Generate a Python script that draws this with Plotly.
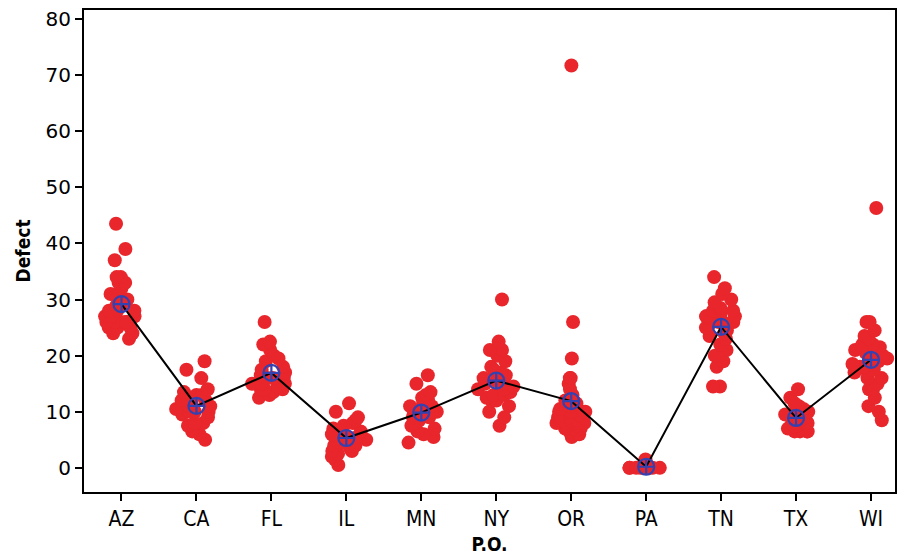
import plotly.graph_objects as go
import pandas as pd

categories = ["AZ", "CA", "FL", "IL", "MN", "NY", "OR", "PA", "TN", "TX", "WI"]

az = [43.5, 39, 37, 34, 34, 33, 33, 32, 31, 31, 30, 30, 29, 29, 28, 28, 28, 27, 27, 27,
      26, 26, 26, 25, 25, 24, 23, 26, 27, 25, 24, 26]
ca = [19, 17.5, 16, 14, 13.5, 13, 13, 12.5, 12, 12, 11.5, 11, 11, 10.5, 10, 10, 10, 9.5,
      9, 8, 8, 7.5, 6.5, 6, 5]
fl = [26, 22.5, 22, 21, 20, 19.5, 19, 18, 17.5, 17, 16.5, 16, 16, 15.5, 15, 15, 14.5, 14,
      14, 13.5, 13, 12.5, 16, 15, 14]
il = [11.5, 10, 9, 8.5, 8, 7.5, 7, 6.5, 6, 6, 5.5, 5, 5, 4.5, 4, 4, 3.5, 3, 3, 2.5, 2,
      1.5, 0.5, 5, 4]
mn = [16.5, 15, 13.5, 13, 12.5, 12, 11.5, 11, 11, 10.5, 10, 10, 9.5, 9, 9, 8.5, 8, 7.5,
      7, 6.5, 6, 5.5, 4.5, 10, 9]
ny = [30, 22.5, 21, 21, 20, 19, 17.5, 18, 17, 16.5, 16, 15.5, 15, 15, 14.5, 14, 13.5, 13,
      12.5, 12, 11, 10, 9, 7.5, 14, 13, 12]
orr = [71.7, 26, 19.5, 16, 16, 15, 14, 13, 12, 12, 11.5, 11, 11, 10.5, 10, 10, 10, 9.5,
       9.5, 9, 9, 8.5, 8.5, 8, 8, 7.5, 7, 7, 6.5, 6, 5.5, 9, 8, 7, 10, 9, 8, 7.5, 8.5, 10]
pa = [0, 0, 0, 0, 0, 0, 0, 0, 0, 0, 0, 0, 1.5, 1, 0.5]
tn = [34, 32, 31, 30, 29.5, 28.5, 28, 28, 27.5, 27, 27, 26.5, 26, 26, 25.5, 25, 25, 24.5,
      24, 23.5, 23, 22, 21, 20, 19, 18, 14.5, 14.5, 26, 27]
tx = [14, 12.5, 11.5, 11, 11, 10.5, 10, 10, 9.5, 9.5, 9, 9, 8.5, 8, 8, 8, 7.5, 7.5, 7, 7,
      7, 6.5, 6.5, 6.5, 6.5, 10, 9, 8]
wi = [46.3, 26, 26, 24.5, 23.5, 23, 22, 22, 21.5, 21, 20.5, 20, 20, 19.5, 19, 18.5, 18,
      17.5, 17, 16, 15, 14, 14, 12.5, 11, 10, 8.5, 17, 18, 16]

groups = [az, ca, fl, il, mn, ny, orr, pa, tn, tx, wi]

rows = []
for cat, vals in zip(categories, groups):
    for v in vals:
        rows.append((cat, v))
df = pd.DataFrame(rows, columns=["PO", "Defect"])
means = df.groupby("PO", sort=False)["Defect"].mean().reindex(categories)

RED = "#E8262B"
BLUE = "#3441B0"

fig = go.Figure()
fig.add_trace(go.Box(
    x=df["PO"], y=df["Defect"],
    boxpoints="all", jitter=1, pointpos=0, width=0.55,
    fillcolor="rgba(0,0,0,0)", line=dict(width=0, color="rgba(0,0,0,0)"),
    marker=dict(color=RED, size=14, opacity=1, line=dict(width=0)),
    showlegend=False, hoveron="points",
))
fig.add_trace(go.Scatter(
    x=categories, y=means.values, mode="lines+markers",
    line=dict(color="black", width=2),
    marker=dict(symbol="circle-cross-open", size=16, color=BLUE, line=dict(width=2.2, color=BLUE)),
    showlegend=False,
))

fig.update_layout(
    width=901, height=556,
    margin=dict(l=84, r=4, t=10, b=64),
    plot_bgcolor="white", paper_bgcolor="white",
    font=dict(family="DejaVu Sans, sans-serif", size=20, color="black"),
)
fig.update_xaxes(
    type="category", categoryorder="array", categoryarray=categories,
    range=[-0.5, 10.32],
    showline=True, linecolor="black", linewidth=2, mirror=True,
    ticks="outside", ticklen=7, tickwidth=1.5, tickcolor="black",
    showgrid=False, zeroline=False,
    title=dict(text="<b>P.O.</b>", font=dict(family="DejaVu Sans Condensed, DejaVu Sans", size=19), standoff=7),
    tickfont=dict(family="DejaVu Sans Condensed, DejaVu Sans", size=21),
)
fig.update_yaxes(
    range=[-4.3, 81.6], tickvals=[0, 10, 20, 30, 40, 50, 60, 70, 80],
    showline=True, linecolor="black", linewidth=2, mirror=True,
    ticks="outside", ticklen=7, tickwidth=1.5, tickcolor="black",
    showgrid=False, zeroline=False,
    title=dict(text="<b>Defect</b>", font=dict(family="DejaVu Sans Condensed, DejaVu Sans", size=19), standoff=10),
    tickfont=dict(family="DejaVu Sans, sans-serif", size=20),
)

fig.write_html("out.html")
